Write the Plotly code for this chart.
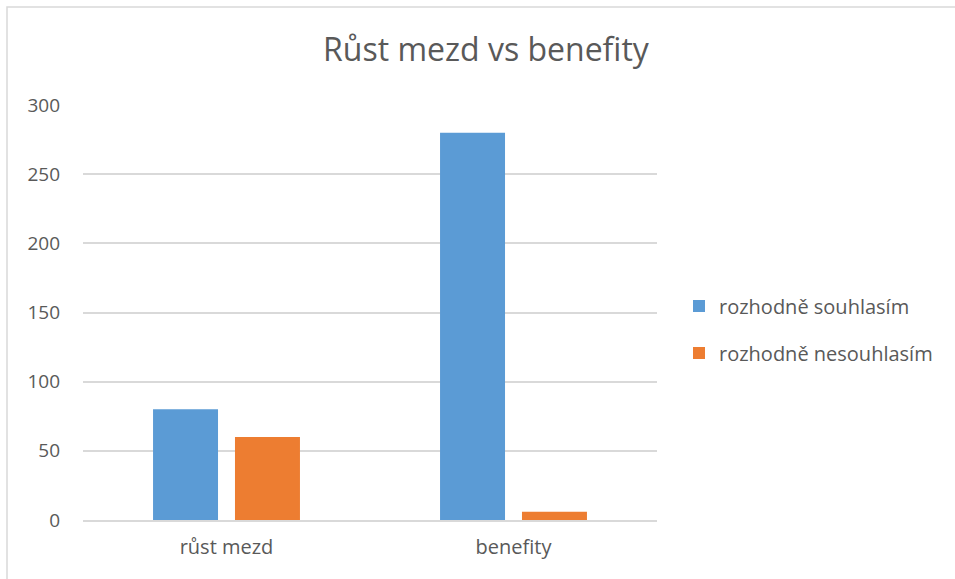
import plotly.graph_objects as go

categories = ["růst mezd", "benefity"]
series_names = ["rozhodně souhlasím", "rozhodně nesouhlasím"]
souhlasim = [80, 280]
nesouhlasim = [60, 6]
tick_values = [0, 50, 100, 150, 200, 250, 300]

colors = ["#5B9BD5", "#ED7D31"]
text_color = "#595959"
font_family = "Open Sans, Liberation Sans, sans-serif"

fig = go.Figure()
for name, vals, col, grp in zip(series_names, [souhlasim, nesouhlasim], colors, ["a", "b"]):
    fig.add_trace(go.Bar(
        x=categories, y=vals, name=name,
        marker=dict(color=col, line=dict(width=0)),
        legendgroup=grp,
    ))

fig.update_layout(
    width=955, height=579,
    margin=dict(l=83, r=298, t=105, b=59),
    paper_bgcolor="white", plot_bgcolor="white",
    barmode="group", bargap=0.429, bargroupgap=0.207,
    title=dict(
        text="Růst mezd vs benefity",
        x=486 / 955, xanchor="center", xref="container",
        y=1 - 50 / 579, yanchor="middle", yref="container",
        font=dict(family=font_family, size=32, color=text_color),
    ),
    font=dict(family=font_family, size=20, color=text_color),
    xaxis=dict(
        showgrid=False, showline=True, linecolor="#D9D9D9", linewidth=1.5,
        ticks="", tickfont=dict(size=20, color=text_color),
        ticklabelstandoff=8,
    ),
    yaxis=dict(
        range=[0, 300], tickvals=tick_values,
        showgrid=True, gridcolor="#D9D9D9", gridwidth=1.5,
        zeroline=False, showline=False, ticks="",
        tickfont=dict(size=19, color=text_color), ticklabelstandoff=22,
    ),
    legend=dict(
        x=(679 - 83) / 574, xanchor="left",
        y=0.5 - 17 / 415, yanchor="middle", yref="paper",
        font=dict(size=20, color=text_color),
        tracegroupgap=18, itemwidth=30,
        bgcolor="rgba(0,0,0,0)",
    ),
    shapes=[dict(
        type="rect", xref="paper", yref="paper",
        x0=-76 / 574, x1=1.6, y0=-0.3, y1=1 + 98 / 415,
        line=dict(color="#D9D9D9", width=1.5), fillcolor="rgba(0,0,0,0)",
        layer="below",
    )],
)

fig.write_html("out.html")
